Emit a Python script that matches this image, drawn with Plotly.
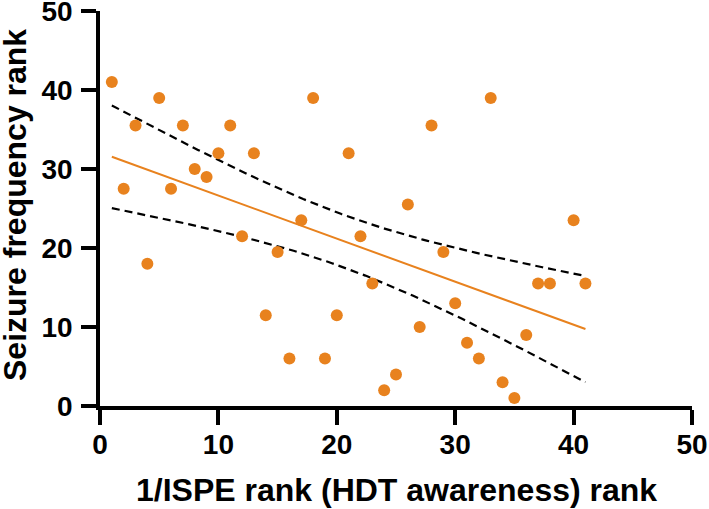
import numpy as np
import plotly.graph_objects as go

# Data
x_rank = [1, 2, 3, 4, 5, 6, 7, 8, 9, 10, 11, 12, 13, 14, 15, 16, 17, 18, 19, 20,
          21, 22, 23, 24, 25, 26, 27, 28, 29, 30, 31, 32, 33, 34, 35, 36, 37, 38, 40, 41]
y_rank = [41, 27.5, 35.5, 18, 39, 27.5, 35.5, 30, 29, 32, 35.5, 21.5, 32, 11.5, 19.5, 6, 23.5, 39, 6, 11.5,
          32, 21.5, 15.5, 2, 4, 25.5, 10, 35.5, 19.5, 13, 8, 6, 39, 3, 1, 9, 15.5, 15.5, 23.5, 15.5]
tick_vals = [0, 10, 20, 30, 40, 50]
x_title = "1/ISPE rank (HDT awareness) rank"
y_title = "Seizure frequency rank"

ORANGE = "#E8821E"
FONT = "Liberation Sans"

# Linear regression with 95% confidence band
xa = np.array(x_rank, dtype=float)
ya = np.array(y_rank, dtype=float)
n = len(xa)
slope, intercept = np.polyfit(xa, ya, 1)
xf = np.linspace(xa.min(), xa.max(), 100)
yf = intercept + slope * xf
resid = ya - (intercept + slope * xa)
s = np.sqrt(np.sum(resid ** 2) / (n - 2))
xbar = xa.mean()
sxx = np.sum((xa - xbar) ** 2)
t_crit = 2.0244  # t(0.975, df=38)
half = t_crit * s * np.sqrt(1.0 / n + (xf - xbar) ** 2 / sxx)

fig = go.Figure()
fig.add_trace(go.Scatter(x=xf, y=yf + half, mode="lines",
                         line=dict(color="black", width=2.2, dash="8px,5px"),
                         hoverinfo="skip"))
fig.add_trace(go.Scatter(x=xf, y=yf - half, mode="lines",
                         line=dict(color="black", width=2.2, dash="8px,5px"),
                         hoverinfo="skip"))
fig.add_trace(go.Scatter(x=xf, y=yf, mode="lines",
                         line=dict(color=ORANGE, width=2)))
fig.add_trace(go.Scatter(x=x_rank, y=y_rank, mode="markers",
                         marker=dict(color=ORANGE, size=12, line=dict(width=0)),
                         cliponaxis=False))

axis_common = dict(
    range=[0, 50], tickvals=tick_vals, showgrid=False, zeroline=False,
    showline=True, linecolor="black", linewidth=3.5,
    ticks="outside", ticklen=15, tickwidth=3.5, tickcolor="black",
    tickfont=dict(family=FONT, size=28, color="black", weight="bold"),
    automargin=False, ticklabeloverflow="allow",
)

fig.update_layout(
    width=709, height=509,
    margin=dict(l=100, r=17, t=11, b=103),
    paper_bgcolor="white", plot_bgcolor="white",
    showlegend=False,
    xaxis=dict(**axis_common, ticklabelstandoff=-4),
    yaxis=dict(**axis_common, ticklabelstandoff=3),
    annotations=[
        dict(text=x_title, xref="paper", yref="paper", x=0.5, y=-0.2134,
             xanchor="center", yanchor="middle", showarrow=False,
             font=dict(family=FONT, size=32, color="black", weight="bold")),
        dict(text=y_title, xref="paper", yref="paper", x=-0.1425, y=0.508,
             xanchor="center", yanchor="middle", showarrow=False, textangle=-90,
             font=dict(family=FONT, size=32, color="black", weight="bold")),
    ],
)

fig.write_html("out.html",
               config={"displayModeBar": False},
               post_script="document.body.style.margin='0';document.body.style.overflow='hidden';")
